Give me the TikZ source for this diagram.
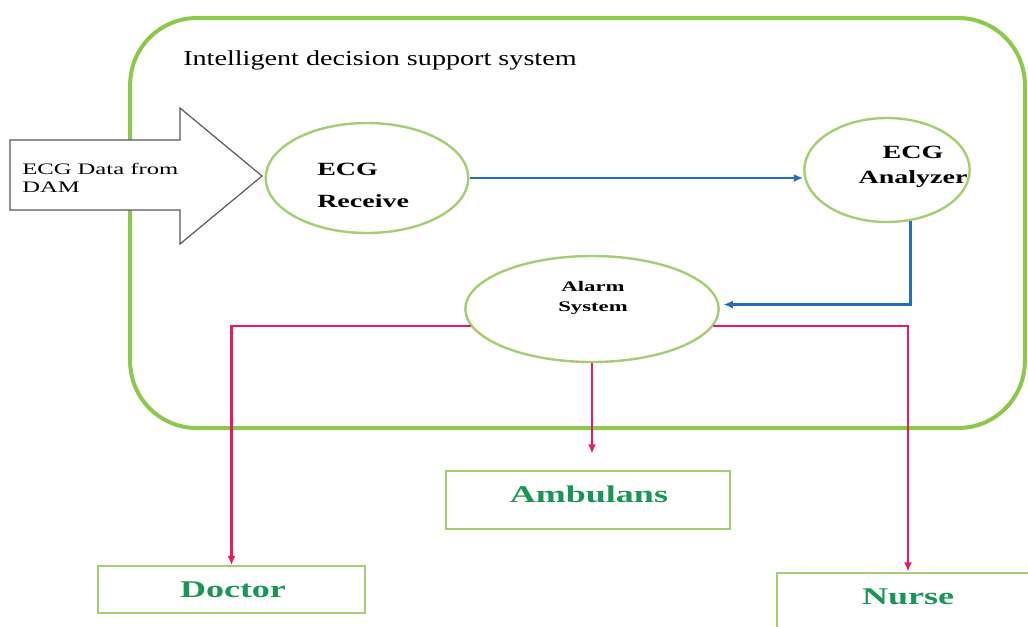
\documentclass[tikz,border=0pt]{standalone}
\usepackage{fontspec}
\setmainfont{Liberation Serif}
\usetikzlibrary{arrows.meta,shapes.geometric}
\definecolor{frameg}{RGB}{140,200,75}
\definecolor{nodeg}{RGB}{165,205,115}
\definecolor{txtg}{RGB}{25,150,85}
\definecolor{bl}{RGB}{35,110,190}
\definecolor{pk}{RGB}{232,25,100}
\newcommand{\sx}[2]{\scalebox{#1}[1]{#2}}
\begin{document}
\begin{tikzpicture}[x=0.75pt,y=-0.75pt,
  ell/.style={draw=nodeg, line width=1.8pt, ellipse, inner sep=0pt, fill=white},
  outbox/.style={draw=nodeg, line width=1.5pt, rectangle, inner sep=0pt, fill=white},
  outtxt/.style={text=txtg, font=\fontsize{18}{20}\selectfont\bfseries},
  blarrow/.style={draw=bl, line width=2.1pt, -{Latex[length=7pt,width=6pt]}},
  pkarrow/.style={draw=pk, line width=2.1pt, -{Latex[length=7pt,width=6pt]}},
  ntxt/.style={font=\bfseries, inner sep=0pt}]
\useasboundingbox (0,0) rectangle (1028,626);
\fill[white] (0,0) rectangle (1028,626);
% frame
\node[draw=frameg, line width=3pt, rounded corners=50pt, minimum width=671pt, minimum height=307.5pt, inner sep=0pt] (frame) at (577.5,223) {};
\node[anchor=west, inner sep=0pt, font=\fontsize{16}{18}\selectfont] (title) at (183,60) {\sx{1.32}{Intelligent decision support system}};
% big input arrow
\draw[draw=black!65, line width=0.9pt, fill=white] (10,140) -- (180,140) -- (180,108) -- (262,176) -- (180,244) -- (180,210) -- (10,210) -- cycle;
\node[anchor=west, align=left, inner sep=0pt, font=\fontsize{12}{13.5}\selectfont] (input) at (22,178) {\sx{1.54}{ECG Data from}\\\sx{1.54}{DAM}};
% ellipses
\node[ell, minimum width=152pt, minimum height=82.5pt] (rec) at (367,178) {};
\node[ntxt, anchor=west, align=left, font=\fontsize{14}{24}\selectfont\bfseries] (rectxt) at (317,185) {\sx{1.5}{ECG}\\\sx{1.5}{Receive}};
\node[ell, minimum width=124pt, minimum height=78pt] (ana) at (887,170) {};
\node[ntxt, align=center, font=\fontsize{14}{19}\selectfont\bfseries] (anatxt) at (913,167) {\sx{1.5}{ECG}\\\sx{1.5}{Analyzer}};
\node[ell, minimum width=190pt, minimum height=79.5pt] (alarm) at (592,309) {};
\node[ntxt, align=center, font=\fontsize{11}{15}\selectfont\bfseries] (alarmtxt) at (593,298) {\sx{1.55}{Alarm}\\\sx{1.55}{System}};
% output boxes
\node[outbox, minimum width=213pt, minimum height=44pt] (amb) at (588,500) {};
\node[outtxt] at (589,494) {\sx{1.5}{Ambulans}};
\node[outbox, minimum width=200pt, minimum height=35pt] (doc) at (231.5,589.5) {};
\node[outtxt] at (233,590) {\sx{1.5}{Doctor}};
\node[outbox, minimum width=300pt, minimum height=50pt] (nurse) at (977,606) {};
\node[outtxt] at (908,597) {\sx{1.5}{Nurse}};
% connectors
\draw[blarrow] (rec.east) -- (ana.west |- rec.east);
\draw[blarrow, shorten >=3pt] (ana.-65) |- (alarm.2);
\draw[pkarrow] (alarm.188) -| (doc.north);
\draw[pkarrow] (alarm.-8) -| (nurse.north -| 908,0);
\draw[pkarrow, shorten >=12pt] (alarm.south) -- (alarm.south |- amb.north);
\end{tikzpicture}
\end{document}
